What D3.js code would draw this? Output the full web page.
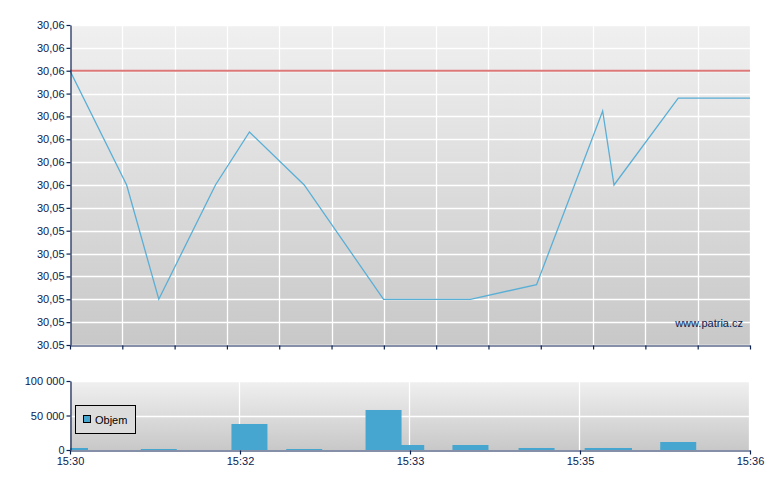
<!DOCTYPE html>
<html>
<head>
<meta charset="utf-8">
<script src="https://cdn.jsdelivr.net/npm/d3@7/dist/d3.min.js"></script>
<style>
  html, body { margin: 0; padding: 0; background: #ffffff; }
  svg { display: block; }
  text { font-family: "Liberation Sans", Arial, sans-serif; }
</style>
</head>
<body>
<svg id="chart" width="780" height="490"></svg>
<script>
// ---------- DATA ----------
const priceTimes = ["15:30:00","15:30:30","15:30:47","15:31:17","15:31:35","15:32:04","15:32:46","15:32:58","15:33:32","15:34:07","15:34:42","15:34:48","15:35:22","15:36:00"];
const priceValues = [30.0564, 30.05515, 30.0539, 30.05515, 30.05573, 30.05515, 30.0539, 30.0539, 30.0539, 30.05406, 30.05596, 30.05515, 30.0561, 30.0561];
const referencePrice = 30.0564;

const volumeTimes = ["15:30:00","15:30:47","15:31:35","15:32:04","15:32:46","15:32:58","15:33:32","15:34:07","15:34:42","15:34:48","15:35:22"];
const volumeValues = [2900, 1450, 37700, 1450, 58000, 7250, 7250, 2900, 2900, 2900, 11600];

const priceTicks = [30.0534, 30.05365, 30.0539, 30.05415, 30.0544, 30.05465, 30.0549, 30.05515, 30.0554, 30.05565, 30.0559, 30.05615, 30.0564, 30.05665, 30.0569];
const priceTickLabels = ["30.05","30,05","30,05","30,05","30,05","30,05","30,05","30,06","30,06","30,06","30,06","30,06","30,06","30,06","30,06"];

const volumeTicks = [0, 50000, 100000];
const volumeTickLabels = ["0", "50 000", "100 000"];

const timeTicks = ["15:30:00","15:31:30","15:33:00","15:34:30","15:36:00"];
const timeTickLabels = ["15:30","15:32","15:33","15:35","15:36"];
const timeStart = "15:30:00", timeEnd = "15:36:00";
const gridDivisions = 13;

const legendLabel = "Objem";
const watermark = "www.patria.cz";

// ---------- SETUP ----------
const parseT = s => { const [h,m,sec] = s.split(":").map(Number); return new Date(2020,0,1,h,m,sec); };
const navy = "#0c2150";
const svg = d3.select("#chart");

const left = 70, right = 750;
const mainTop = 25, mainBottom = 345;
const volTop = 381, volBottom = 450;

const x = d3.scaleTime().domain([parseT(timeStart), parseT(timeEnd)]).range([left, right]);
const y = d3.scaleLinear().domain([priceTicks[0], priceTicks[priceTicks.length-1]]).range([mainBottom, mainTop]);
const yv = d3.scaleLinear().domain([0, 100000]).range([volBottom, volTop]);

const defs = svg.append("defs");
const grad = defs.append("linearGradient").attr("id","bg").attr("x1",0).attr("y1",0).attr("x2",0).attr("y2",1);
grad.append("stop").attr("offset","0%").attr("stop-color","#f0f0f0");
grad.append("stop").attr("offset","100%").attr("stop-color","#c8c8c8");
defs.append("clipPath").attr("id","clipMain").append("rect")
  .attr("x",left).attr("y",mainTop).attr("width",right-left).attr("height",mainBottom-mainTop);
defs.append("clipPath").attr("id","clipVol").append("rect")
  .attr("x",left).attr("y",volTop).attr("width",right-left).attr("height",volBottom-volTop);

// ---------- MAIN PRICE CHART ----------
svg.append("rect").attr("x",left).attr("y",mainTop).attr("width",right-left).attr("height",mainBottom-mainTop).attr("fill","url(#bg)");

const gridTimes = d3.range(gridDivisions+1).map(i => new Date(+parseT(timeStart) + i*(parseT(timeEnd)-parseT(timeStart))/gridDivisions));

// grid
svg.append("g").selectAll("line").data(priceTicks).join("line")
  .attr("x1",left).attr("x2",right).attr("y1",d=>Math.round(y(d))+0.5).attr("y2",d=>Math.round(y(d))+0.5)
  .attr("stroke","#ffffff").attr("stroke-width",1.3);
svg.append("g").selectAll("line").data(gridTimes).join("line")
  .attr("x1",d=>Math.round(x(d))+0.5).attr("x2",d=>Math.round(x(d))+0.5).attr("y1",mainTop).attr("y2",mainBottom)
  .attr("stroke","#ffffff").attr("stroke-width",1.3);

// reference line
svg.append("line").attr("x1",left).attr("x2",right).attr("y1",y(referencePrice)).attr("y2",y(referencePrice))
  .attr("stroke","#dd7878").attr("stroke-width",2);

// price line
const line = d3.line().x((d,i)=>x(parseT(priceTimes[i]))).y(d=>y(d));
svg.append("path").datum(priceValues).attr("d",line).attr("fill","none")
  .attr("stroke","#5aafd6").attr("stroke-width",1.3).attr("clip-path","url(#clipMain)");

// axes
const yAxis = d3.axisLeft(y).tickValues(priceTicks).tickFormat((d,i)=>priceTickLabels[i]).tickSize(4).tickSizeOuter(0);
const gy = svg.append("g").attr("transform",`translate(${left+0.5},0)`).call(yAxis);
const xAxisMain = d3.axisBottom(x).tickValues(gridTimes).tickFormat("").tickSize(4).tickSizeOuter(0);
const gx = svg.append("g").attr("transform",`translate(0,${mainBottom+0.5})`).call(xAxisMain);

svg.append("text").attr("x",743).attr("y",327).attr("text-anchor","end")
  .attr("font-size",11).attr("fill",navy).text(watermark);

// ---------- VOLUME CHART ----------
svg.append("rect").attr("x",left).attr("y",volTop).attr("width",right-left).attr("height",volBottom-volTop).attr("fill","url(#bg)");
svg.append("g").selectAll("line").data(volumeTicks.slice(1)).join("line")
  .attr("x1",left).attr("x2",right).attr("y1",d=>Math.round(yv(d))+0.5).attr("y2",d=>Math.round(yv(d))+0.5)
  .attr("stroke","#ffffff").attr("stroke-width",1.3);
svg.append("g").selectAll("line").data(timeTicks.slice(1).map(parseT)).join("line")
  .attr("x1",d=>Math.round(x(d))-0.5).attr("x2",d=>Math.round(x(d))-0.5).attr("y1",volTop).attr("y2",volBottom)
  .attr("stroke","#ffffff").attr("stroke-width",1.3);

const barW = 36;
const bars = volumeValues.map((v,i)=>({t:parseT(volumeTimes[i]), v})).sort((a,b)=>a.v-b.v);
svg.append("g").attr("clip-path","url(#clipVol)").selectAll("rect").data(bars).join("rect")
  .attr("x",d=>x(d.t)-barW/2).attr("width",barW)
  .attr("y",d=>yv(d.v)).attr("height",d=>yv(0)-yv(d.v))
  .attr("fill","#47a6cf");

const yvAxis = d3.axisLeft(yv).tickValues(volumeTicks).tickFormat((d,i)=>volumeTickLabels[i]).tickSize(4).tickSizeOuter(0);
const gyv = svg.append("g").attr("transform",`translate(${left+0.5},0)`).call(yvAxis);
const xAxis = d3.axisBottom(x).tickValues(timeTicks.map(parseT)).tickFormat((d,i)=>timeTickLabels[i]).tickSize(4).tickSizeOuter(0);
const gxv = svg.append("g").attr("transform",`translate(0,${volBottom+0.5})`).call(xAxis);

[gy,gx,gyv,gxv].forEach(g=>{
  g.selectAll(".domain").attr("stroke",navy).attr("stroke-width",1.2);
  g.selectAll(".tick line").attr("stroke",navy).attr("stroke-width",1.2);
  g.selectAll(".tick text").attr("fill",navy).attr("font-size",11).attr("font-family","'Liberation Sans', Arial, sans-serif");
});
gy.selectAll(".tick text").attr("x",-6);
gyv.selectAll(".tick text").attr("x",-6);
gxv.selectAll(".tick text").attr("y",7);

// legend
const lg = svg.append("g");
lg.append("rect").attr("x",75.5).attr("y",405.5).attr("width",60).attr("height",28)
  .attr("fill","#dcdcdc").attr("stroke","#000000").attr("stroke-width",1);
lg.append("rect").attr("x",83.5).attr("y",415.5).attr("width",7).attr("height",7)
  .attr("fill","#47a6cf").attr("stroke","#000000").attr("stroke-width",1);
lg.append("text").attr("x",95).attr("y",424).attr("font-size",11).attr("fill","#000000").text(legendLabel);
</script>
</body>
</html>
